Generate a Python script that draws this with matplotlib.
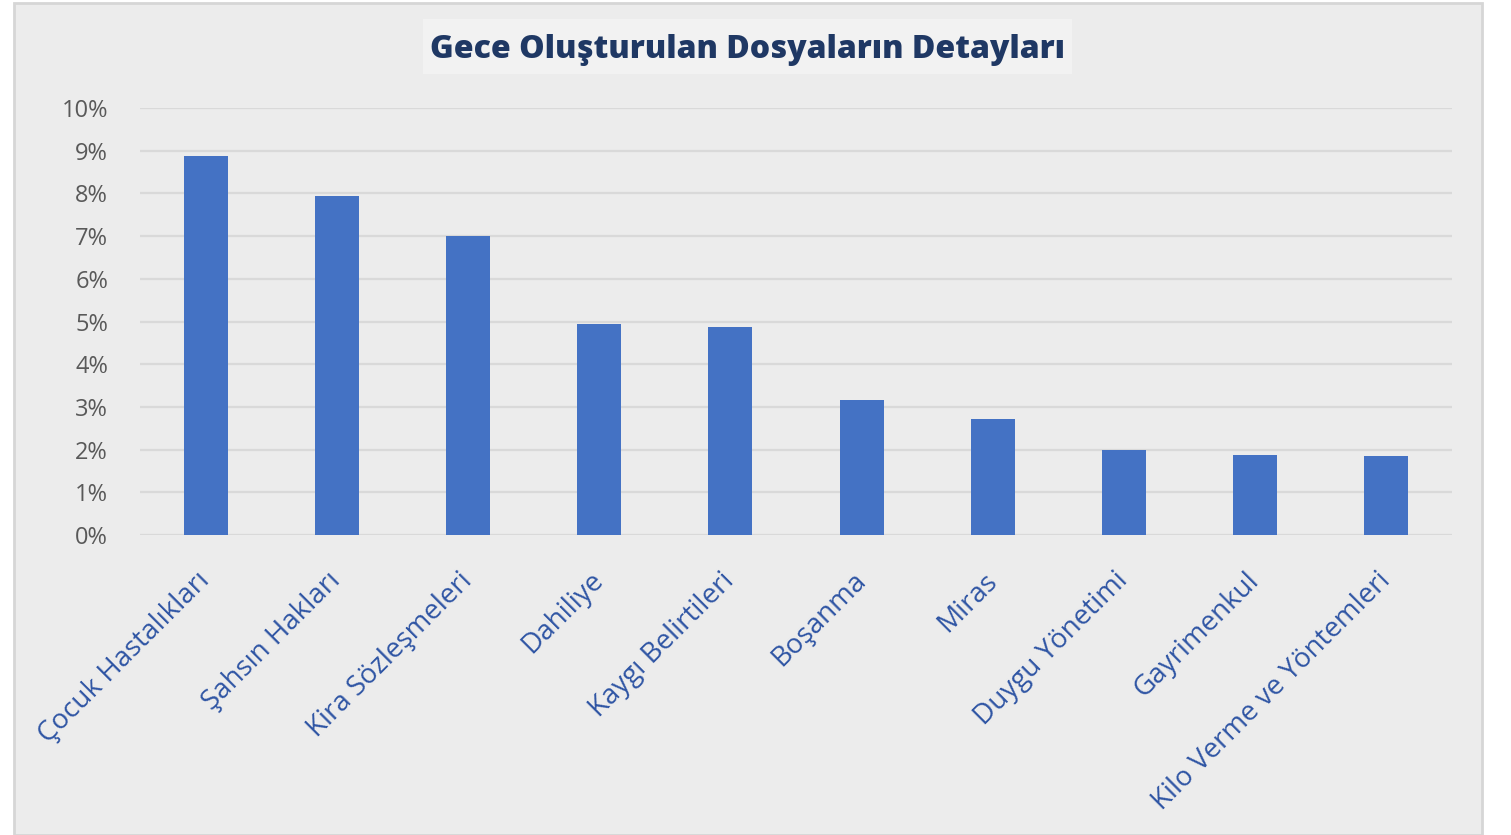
import numpy as np
import matplotlib
import matplotlib.pyplot as plt
from matplotlib.patches import Rectangle
from matplotlib.ticker import FuncFormatter

categories = ["Çocuk Hastalıkları", "Şahsın Hakları", "Kira Sözleşmeleri", "Dahiliye",
              "Kaygı Belirtileri", "Boşanma", "Miras", "Duygu Yönetimi", "Gayrimenkul",
              "Kilo Verme ve Yöntemleri"]
values = [8.88, 7.94, 7.0, 4.95, 4.88, 3.16, 2.72, 1.99, 1.88, 1.85]
yticks = np.arange(0, 11, 1)

title = "Gece Oluşturulan Dosyaların Detayları"

plt.rcParams['font.family'] = ["Open Sans", "DejaVu Sans"]

W, H = 1511, 835
fig = plt.figure(figsize=(W / 100, H / 100), dpi=100)
fig.patch.set_facecolor("white")

# light grey panel behind everything
fig.add_artist(Rectangle((14 / W, 0), (1482 - 14) / W, (835 - 3) / H,
                         transform=fig.transFigure, facecolor="#ececec",
                         edgecolor="#d6d6d6", linewidth=2, zorder=-10))
# title box
fig.add_artist(Rectangle((423 / W, 1 - 74 / H), (1072 - 423) / W, (74 - 19) / H,
                         transform=fig.transFigure, facecolor="#f2f2f2",
                         edgecolor="none", zorder=-5))
fig.text((423 + 1072) / 2 / W, 1 - 50 / H, title, ha="center", va="center",
         fontsize=23, fontweight="heavy", color="#1f3864")

ax = fig.add_axes([140 / W, 1 - 535 / H, (1452 - 140) / W, (535 - 108) / H])
ax.set_facecolor("none")

x = np.arange(len(categories))
ax.bar(x, values, width=0.335, color="#4472c4", zorder=3)

ax.set_xlim(-0.5, len(categories) - 0.5)
ax.set_ylim(0, 10)
ax.set_yticks(yticks)
ax.yaxis.set_major_formatter(FuncFormatter(lambda v, p: f"{int(v)}%"))
ax.grid(axis="y", color="#d9d9d9", linewidth=1.6, zorder=0)
ax.set_axisbelow(True)

for s in ax.spines.values():
    s.set_visible(False)
ax.tick_params(axis="both", length=0)
ax.tick_params(axis="y", labelsize=17, labelcolor="#595959", pad=23)

ax.set_xticks(x)
ax.set_xticklabels(categories, rotation=45, ha="right", va="center",
                   rotation_mode="anchor", fontsize=20, color="#2f55a4")
ax.tick_params(axis="x", pad=30)

fig.savefig("out.png", dpi=100)
